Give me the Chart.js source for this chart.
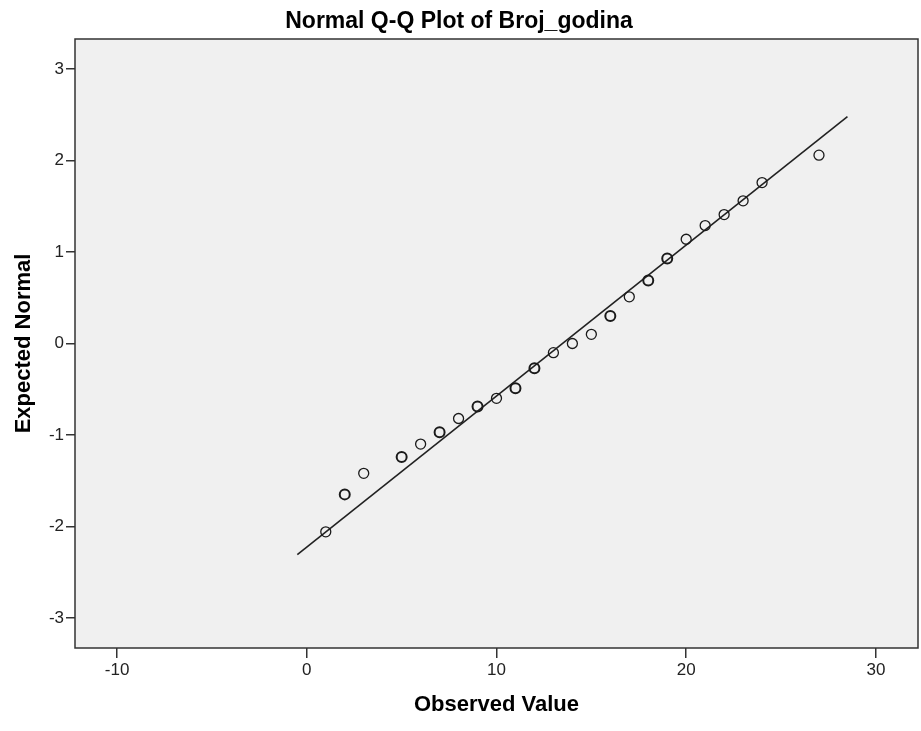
<!DOCTYPE html>
<html>
<head>
<meta charset="utf-8">
<title>Normal Q-Q Plot of Broj_godina</title>
<script src="https://cdn.jsdelivr.net/npm/chart.js@4.4.1/dist/chart.umd.min.js"></script>
<style>
  body { margin: 0; background: #fff; }
  canvas { display: block; }
</style>
</head>
<body>
<canvas id="qqChart" width="921" height="731"></canvas>
<script>
'use strict';

// data
let observedValues = [1, 2, 3, 5, 6, 7, 8, 9, 10, 11, 12, 13, 14, 15, 16, 17, 18, 19, 20, 21, 22, 23, 24, 27];
let expectedNormal = [-2.06, -1.65, -1.42, -1.24, -1.10, -0.97, -0.82, -0.69, -0.60, -0.49, -0.27, -0.10, 0.00, 0.10, 0.30, 0.51, 0.69, 0.93, 1.14, 1.29, 1.41, 1.56, 1.76, 2.06];
let tieCounts = [1, 2, 1, 2, 1, 2, 1, 2, 1, 2, 2, 1, 1, 1, 2, 1, 2, 2, 1, 1, 1, 1, 1, 1]; // overlapping cases look darker
let refLineX = [-0.5, 28.5];
let refLineY = [-2.31, 2.48];
let xTickValues = [-10, 0, 10, 20, 30];
let yTickValues = [-3, -2, -1, 0, 1, 2, 3];

let fontName = '"Liberation Sans", Arial, sans-serif';

let qqPoints = [];
for (let i = 0; i < observedValues.length; i++) {
  qqPoints.push({ x: observedValues[i], y: expectedNormal[i] });
}
let linePoints = [];
for (let i = 0; i < refLineX.length; i++) {
  linePoints.push({ x: refLineX[i], y: refLineY[i] });
}

// grey plot background and the frame round it
const frameBox = {
  id: 'frameBox',
  beforeDatasetsDraw(chart) {
    const { ctx, chartArea } = chart;
    ctx.save();
    ctx.fillStyle = '#f0f0f0';
    ctx.fillRect(chartArea.left, chartArea.top, chartArea.right - chartArea.left, chartArea.bottom - chartArea.top);
    ctx.restore();
  },
  afterDraw(chart) {
    const { ctx, chartArea } = chart;
    ctx.save();
    ctx.strokeStyle = '#333';
    ctx.lineWidth = 1.5;
    ctx.strokeRect(chartArea.left, chartArea.top, chartArea.right - chartArea.left, chartArea.bottom - chartArea.top);
    ctx.restore();
  }
};

const config = {
  type: 'scatter',
  data: {
    datasets: [{
      label: 'Observed',
      data: qqPoints,
      pointStyle: 'circle',
      pointRadius: 5,
      backgroundColor: 'rgba(0,0,0,0)',
      borderColor: '#1a1a1a',
      pointBorderWidth: tieCounts.map(c => c > 1 ? 2 : 1.3),
      order: 1
    },
    {
      type: 'line',
      label: 'Reference',
      data: linePoints,
      borderColor: '#222',
      borderWidth: 1.6,
      pointRadius: 0,
      fill: false,
      order: 2
    }]
  },
  options: {
    responsive: false,
    animation: false,
    layout: { autoPadding: false, padding: { left: 0, right: 3, top: 0, bottom: 0 } },
    plugins: {
      legend: { display: false },
      tooltip: { enabled: false },
      title: {
        display: true,
        text: 'Normal Q-Q Plot of Broj_godina',
        color: '#000',
        font: { family: fontName, size: 23, weight: 'bold', lineHeight: 1.2 },
        padding: { top: 8, bottom: 3.4 }
      }
    },
    scales: {
      x: {
        type: 'linear',
        min: -12.22,
        max: 32.22,
        afterBuildTicks: scale => { scale.ticks = xTickValues.map(v => ({ value: v })); },
        afterFit: scale => {
          scale.height = 83;
          scale.paddingLeft = 0;
          scale.paddingRight = 0;
        },
        border: { display: false },
        grid: { drawOnChartArea: false, drawTicks: true, tickLength: 10, color: '#333', lineWidth: 1.5 },
        ticks: { color: '#222', padding: 2, font: { family: fontName, size: 17 } },
        title: {
          display: true,
          text: 'Observed Value',
          color: '#000',
          font: { family: fontName, size: 22, weight: 'bold', lineHeight: 1.2 },
          padding: { top: 0, bottom: 13 }
        }
      },
      y: {
        type: 'linear',
        min: -3.33,
        max: 3.33,
        afterBuildTicks: scale => { scale.ticks = yTickValues.map(v => ({ value: v })); },
        afterFit: scale => {
          scale.width = 75;
          scale.paddingTop = 0;
          scale.paddingBottom = 0;
        },
        border: { display: false },
        grid: { drawOnChartArea: false, drawTicks: true, tickLength: 9, color: '#333', lineWidth: 1.5 },
        ticks: { color: '#222', padding: 2, font: { family: fontName, size: 17 } },
        title: {
          display: true,
          text: 'Expected Normal',
          color: '#000',
          font: { family: fontName, size: 22, weight: 'bold', lineHeight: 1.2 },
          padding: { top: 11, bottom: 0 }
        }
      }
    }
  },
  plugins: [frameBox]
};

new Chart(document.getElementById('qqChart'), config);
</script>
</body>
</html>
